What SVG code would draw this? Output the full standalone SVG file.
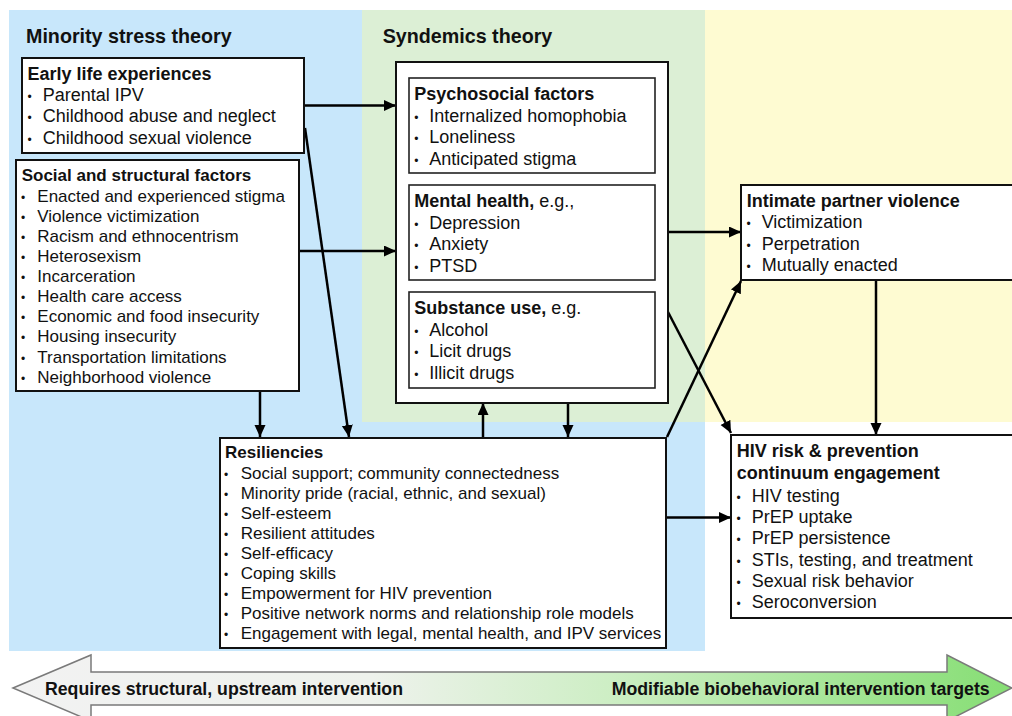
<svg xmlns="http://www.w3.org/2000/svg" width="1012" height="716" viewBox="0 0 1012 716">
<defs>
<style>
.bg{stroke:none}
.box{fill:#fff;stroke:#111;stroke-width:2}
.ibox{fill:#fff;stroke:#222;stroke-width:1.6}
.conn{fill:none;stroke:#000;stroke-width:2.5;marker-end:url(#ah)}
text{font-family:"Liberation Sans",Arial,Helvetica,sans-serif;fill:#111}
.h{font-weight:bold}
.s17{font-size:17px}
.s18{font-size:18px}
.th{font-size:19.7px;font-weight:bold}
.b{font-size:12px}
.bar{font-family:"Liberation Sans Narrow","Liberation Sans",Arial,sans-serif;font-weight:bold;font-size:17.5px;font-stretch:condensed}
</style>
<marker id="ah" markerUnits="userSpaceOnUse" markerWidth="13" markerHeight="12" refX="12" refY="5.5" orient="auto">
<path d="M0,0 L12,5.5 L0,11 z" fill="#000"/>
</marker>
<linearGradient id="grad" x1="13" y1="0" x2="1011" y2="0" gradientUnits="userSpaceOnUse">
<stop offset="0" stop-color="#f2f2f2"/>
<stop offset="0.36" stop-color="#eef2ec"/>
<stop offset="0.6" stop-color="#cdeec4"/>
<stop offset="1" stop-color="#86de74"/>
</linearGradient>
</defs>

<g id="backgrounds">
<rect class="bg" x="9" y="10" width="353" height="641" fill="#c8e7fb"/>
<rect class="bg" x="362" y="422" width="343" height="229" fill="#c8e7fb"/>
<rect class="bg" x="362" y="10" width="343" height="412" fill="#dcefd5"/>
<rect class="bg" x="705" y="10" width="307" height="412" fill="#fefbd2"/>
<text class="th" x="26" y="42.7">Minority stress theory</text>
<text class="th" x="382.7" y="42.7">Syndemics theory</text>
</g>

<g id="connectors">
<path class="conn" d="M304,105.5 H396"/>
<path class="conn" d="M305,128 L349,437"/>
<path class="conn" d="M299,251 H396"/>
<path class="conn" d="M260,391 V437"/>
<path class="conn" d="M483,437 V403"/>
<path class="conn" d="M568,403 V437"/>
<path class="conn" d="M668,232 H741"/>
<path class="conn" d="M668,312 L731,433"/>
<path class="conn" d="M667,437 L741,281"/>
<path class="conn" d="M876,280 V435"/>
<path class="conn" d="M666,517.5 H731"/>
</g>

<g id="early-life">
<rect class="box" x="22" y="58" width="282" height="95"/>
<text class="s18 h" x="27.5" y="79.5">Early life experiences</text>
<text class="s18" y="101"><tspan class="b" x="27.5">•</tspan><tspan x="42.7">Parental IPV</tspan></text>
<text class="s18" y="122.3"><tspan class="b" x="27.5">•</tspan><tspan x="42.7">Childhood abuse and neglect</tspan></text>
<text class="s18" y="143.5"><tspan class="b" x="27.5">•</tspan><tspan x="42.7">Childhood sexual violence</tspan></text>
</g>

<g id="social-structural">
<rect class="box" x="16" y="160" width="283" height="231"/>
<text class="s17 h" x="21.7" y="180.7">Social and structural factors</text>
<text class="s17" y="201.7"><tspan class="b" x="21">•</tspan><tspan x="37.3">Enacted and experienced stigma</tspan></text>
<text class="s17" y="221.8"><tspan class="b" x="21">•</tspan><tspan x="37.3">Violence victimization</tspan></text>
<text class="s17" y="241.9"><tspan class="b" x="21">•</tspan><tspan x="37.3">Racism and ethnocentrism</tspan></text>
<text class="s17" y="262"><tspan class="b" x="21">•</tspan><tspan x="37.3">Heterosexism</tspan></text>
<text class="s17" y="282.1"><tspan class="b" x="21">•</tspan><tspan x="37.3">Incarceration</tspan></text>
<text class="s17" y="302.2"><tspan class="b" x="21">•</tspan><tspan x="37.3">Health care access</tspan></text>
<text class="s17" y="322.3"><tspan class="b" x="21">•</tspan><tspan x="37.3">Economic and food insecurity</tspan></text>
<text class="s17" y="342.4"><tspan class="b" x="21">•</tspan><tspan x="37.3">Housing insecurity</tspan></text>
<text class="s17" y="362.5"><tspan class="b" x="21">•</tspan><tspan x="37.3">Transportation limitations</tspan></text>
<text class="s17" y="382.6"><tspan class="b" x="21">•</tspan><tspan x="37.3">Neighborhood violence</tspan></text>
</g>

<g id="syndemics">
<rect class="box" x="396" y="62" width="272" height="341"/>
</g>

<g id="psychosocial">
<rect class="ibox" x="409" y="78" width="246" height="95"/>
<text class="s18 h" x="414.3" y="100">Psychosocial factors</text>
<text class="s18" y="121.5"><tspan class="b" x="414.3">•</tspan><tspan x="429.3">Internalized homophobia</tspan></text>
<text class="s18" y="143"><tspan class="b" x="414.3">•</tspan><tspan x="429.3">Loneliness</tspan></text>
<text class="s18" y="164.5"><tspan class="b" x="414.3">•</tspan><tspan x="429.3">Anticipated stigma</tspan></text>
</g>

<g id="mental-health">
<rect class="ibox" x="409" y="185" width="246" height="95"/>
<text class="s18" x="414.3" y="207"><tspan class="h">Mental health,</tspan> e.g.,</text>
<text class="s18" y="228.5"><tspan class="b" x="414.3">•</tspan><tspan x="429.3">Depression</tspan></text>
<text class="s18" y="250"><tspan class="b" x="414.3">•</tspan><tspan x="429.3">Anxiety</tspan></text>
<text class="s18" y="271.5"><tspan class="b" x="414.3">•</tspan><tspan x="429.3">PTSD</tspan></text>
</g>

<g id="substance-use">
<rect class="ibox" x="409" y="292" width="246" height="96"/>
<text class="s18" x="414.3" y="314"><tspan class="h">Substance use,</tspan> e.g.</text>
<text class="s18" y="335.5"><tspan class="b" x="414.3">•</tspan><tspan x="429.3">Alcohol</tspan></text>
<text class="s18" y="357"><tspan class="b" x="414.3">•</tspan><tspan x="429.3">Licit drugs</tspan></text>
<text class="s18" y="378.5"><tspan class="b" x="414.3">•</tspan><tspan x="429.3">Illicit drugs</tspan></text>
</g>

<g id="ipv">
<rect class="box" x="741" y="185" width="274" height="95"/>
<text class="s18 h" x="746.7" y="206.7">Intimate partner violence</text>
<text class="s18" y="228.3"><tspan class="b" x="746.5">•</tspan><tspan x="761.7">Victimization</tspan></text>
<text class="s18" y="249.7"><tspan class="b" x="746.5">•</tspan><tspan x="761.7">Perpetration</tspan></text>
<text class="s18" y="271"><tspan class="b" x="746.5">•</tspan><tspan x="761.7">Mutually enacted</tspan></text>
</g>

<g id="hiv">
<rect class="box" x="731" y="435" width="284" height="183"/>
<text class="s18 h" x="736.7" y="456.7">HIV risk &amp; prevention</text>
<text class="s18 h" x="736.7" y="479.3">continuum engagement</text>
<text class="s18" y="501.7"><tspan class="b" x="736.5">•</tspan><tspan x="751.7">HIV testing</tspan></text>
<text class="s18" y="523"><tspan class="b" x="736.5">•</tspan><tspan x="751.7">PrEP uptake</tspan></text>
<text class="s18" y="544.3"><tspan class="b" x="736.5">•</tspan><tspan x="751.7">PrEP persistence</tspan></text>
<text class="s18" y="565.6"><tspan class="b" x="736.5">•</tspan><tspan x="751.7">STIs, testing, and treatment</tspan></text>
<text class="s18" y="586.9"><tspan class="b" x="736.5">•</tspan><tspan x="751.7">Sexual risk behavior</tspan></text>
<text class="s18" y="608.2"><tspan class="b" x="736.5">•</tspan><tspan x="751.7">Seroconversion</tspan></text>
</g>

<g id="resiliencies">
<rect class="box" x="220" y="438" width="446" height="210"/>
<text class="s17 h" x="225" y="458.3">Resiliencies</text>
<text class="s17" y="479.3"><tspan class="b" x="224">•</tspan><tspan x="240.7">Social support; community connectedness</tspan></text>
<text class="s17" y="499.3"><tspan class="b" x="224">•</tspan><tspan x="240.7">Minority pride (racial, ethnic, and sexual)</tspan></text>
<text class="s17" y="519.3"><tspan class="b" x="224">•</tspan><tspan x="240.7">Self-esteem</tspan></text>
<text class="s17" y="539.3"><tspan class="b" x="224">•</tspan><tspan x="240.7">Resilient attitudes</tspan></text>
<text class="s17" y="559.3"><tspan class="b" x="224">•</tspan><tspan x="240.7">Self-efficacy</tspan></text>
<text class="s17" y="579.3"><tspan class="b" x="224">•</tspan><tspan x="240.7">Coping skills</tspan></text>
<text class="s17" y="599.3"><tspan class="b" x="224">•</tspan><tspan x="240.7">Empowerment for HIV prevention</tspan></text>
<text class="s17" y="619.3"><tspan class="b" x="224">•</tspan><tspan x="240.7">Positive network norms and relationship role models</tspan></text>
<text class="s17" y="639.3"><tspan class="b" x="224">•</tspan><tspan x="240.7">Engagement with legal, mental health, and IPV services</tspan></text>
</g>

<g id="intervention-bar">
<polygon points="13,688 91,655 91,672 947,672 947,655 1012,688 947,721 947,705 91,705 91,721" fill="url(#grad)" stroke="#7a7a7a" stroke-width="1.5"/>
<text class="bar" x="45" y="695" textLength="358" lengthAdjust="spacingAndGlyphs">Requires structural, upstream intervention</text>
<text class="bar" x="611.7" y="695" textLength="378" lengthAdjust="spacingAndGlyphs">Modifiable biobehavioral intervention targets</text>
</g>
</svg>
